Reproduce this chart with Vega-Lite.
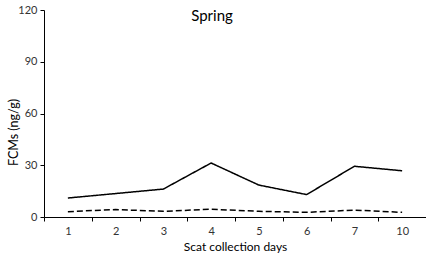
{
  "$schema": "https://vega.github.io/schema/vega-lite/v6.json",
  "width": 382,
  "height": 207,
  "autosize": "none",
  "padding": {"left": 44, "top": 10, "right": 0, "bottom": 41},
  "background": "white",
  "config": {"view": {"stroke": null}, "font": "Lato"},
  "title": {"text": "Spring", "font": "Lato", "fontSize": 15, "fontWeight": "normal", "color": "#000", "offset": -20, "dx": -23, "anchor": "middle"},
  "data": {"values": [
    {"day": "1", "series": "A", "v": 11},
    {"day": "2", "series": "A", "v": 13.6},
    {"day": "3", "series": "A", "v": 16.2},
    {"day": "4", "series": "A", "v": 31.3},
    {"day": "5", "series": "A", "v": 18.5},
    {"day": "6", "series": "A", "v": 13},
    {"day": "7", "series": "A", "v": 29.4},
    {"day": "10", "series": "A", "v": 26.8},
    {"day": "1", "series": "B", "v": 3.1},
    {"day": "2", "series": "B", "v": 4.3},
    {"day": "3", "series": "B", "v": 3.3},
    {"day": "4", "series": "B", "v": 4.5},
    {"day": "5", "series": "B", "v": 3.3},
    {"day": "6", "series": "B", "v": 2.7},
    {"day": "7", "series": "B", "v": 4.0},
    {"day": "10", "series": "B", "v": 2.7}
  ]},
  "mark": {"type": "line", "color": "black", "strokeWidth": 1.5},
  "encoding": {
    "x": {"field": "day", "type": "ordinal", "sort": null,
      "scale": {"type": "band", "paddingInner": 0, "paddingOuter": 0},
      "axis": {"title": "Scat collection days", "labelAngle": 0, "tickBand": "extent", "domainColor": "black", "tickColor": "black", "tickSize": 4, "labelFontSize": 11, "labelColor": "#333", "labelPadding": 4, "titleFontSize": 12, "titleFontWeight": "normal", "titleColor": "#000", "titlePadding": 5, "grid": false}},
    "y": {"field": "v", "type": "quantitative",
      "scale": {"domain": [0, 120], "nice": false},
      "axis": {"title": "FCMs (ng/g)", "values": [0, 30, 60, 90, 120], "domainColor": "black", "tickColor": "black", "tickSize": 4, "labelFontSize": 11, "labelColor": "#333", "labelPadding": 3, "titleFontSize": 12.5, "titleFontWeight": "normal", "titleColor": "#000", "titleAlign": "center", "titleBaseline": "middle", "titleAngle": -90, "titleX": -31, "titleY": 122, "grid": false}},
    "strokeDash": {"field": "series", "type": "nominal", "scale": {"domain": ["A", "B"], "range": [[1, 0], [6, 3]]}, "legend": null}
  }
}
